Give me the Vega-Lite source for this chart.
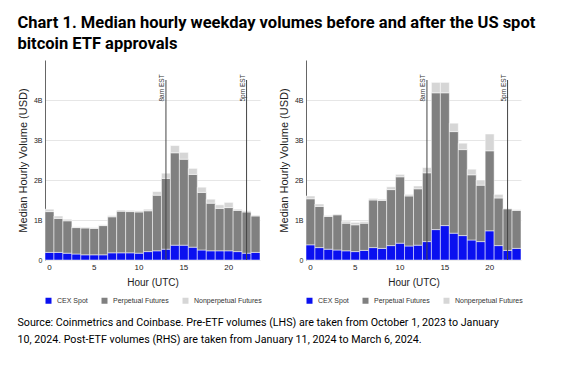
{
  "$schema": "https://vega.github.io/schema/vega-lite/v6.json",
  "background": "white",
  "padding": {"left": 17, "top": 14, "right": 10, "bottom": 6},
  "title": {
    "text": ["Chart 1. Median hourly weekday volumes before and after the US spot", "bitcoin ETF approvals"],
    "anchor": "start", "font": "Roboto", "fontSize": 16.5, "fontWeight": "bold", "lineHeight": 21, "offset": 8, "color": "black"
  },
  "datasets": {
    "pre": [
      {"h": 0, "CEX Spot": 0.19, "Perpetual Futures": 1.02, "Nonperpetual Futures": 0.06},
      {"h": 1, "CEX Spot": 0.19, "Perpetual Futures": 0.85, "Nonperpetual Futures": 0.06},
      {"h": 2, "CEX Spot": 0.17, "Perpetual Futures": 0.81, "Nonperpetual Futures": 0.04},
      {"h": 3, "CEX Spot": 0.15, "Perpetual Futures": 0.66, "Nonperpetual Futures": 0.02},
      {"h": 4, "CEX Spot": 0.13, "Perpetual Futures": 0.67, "Nonperpetual Futures": 0.02},
      {"h": 5, "CEX Spot": 0.13, "Perpetual Futures": 0.66, "Nonperpetual Futures": 0.02},
      {"h": 6, "CEX Spot": 0.13, "Perpetual Futures": 0.73, "Nonperpetual Futures": 0.02},
      {"h": 7, "CEX Spot": 0.18, "Perpetual Futures": 0.90, "Nonperpetual Futures": 0.03},
      {"h": 8, "CEX Spot": 0.18, "Perpetual Futures": 1.04, "Nonperpetual Futures": 0.03},
      {"h": 9, "CEX Spot": 0.18, "Perpetual Futures": 1.03, "Nonperpetual Futures": 0.03},
      {"h": 10, "CEX Spot": 0.17, "Perpetual Futures": 1.03, "Nonperpetual Futures": 0.03},
      {"h": 11, "CEX Spot": 0.21, "Perpetual Futures": 1.02, "Nonperpetual Futures": 0.04},
      {"h": 12, "CEX Spot": 0.23, "Perpetual Futures": 1.39, "Nonperpetual Futures": 0.09},
      {"h": 13, "CEX Spot": 0.27, "Perpetual Futures": 1.77, "Nonperpetual Futures": 0.13},
      {"h": 14, "CEX Spot": 0.37, "Perpetual Futures": 2.31, "Nonperpetual Futures": 0.18},
      {"h": 15, "CEX Spot": 0.37, "Perpetual Futures": 2.15, "Nonperpetual Futures": 0.17},
      {"h": 16, "CEX Spot": 0.32, "Perpetual Futures": 1.82, "Nonperpetual Futures": 0.15},
      {"h": 17, "CEX Spot": 0.25, "Perpetual Futures": 1.44, "Nonperpetual Futures": 0.13},
      {"h": 18, "CEX Spot": 0.23, "Perpetual Futures": 1.19, "Nonperpetual Futures": 0.10},
      {"h": 19, "CEX Spot": 0.23, "Perpetual Futures": 1.06, "Nonperpetual Futures": 0.09},
      {"h": 20, "CEX Spot": 0.23, "Perpetual Futures": 1.08, "Nonperpetual Futures": 0.13},
      {"h": 21, "CEX Spot": 0.21, "Perpetual Futures": 1.03, "Nonperpetual Futures": 0.03},
      {"h": 22, "CEX Spot": 0.17, "Perpetual Futures": 1.03, "Nonperpetual Futures": 0.03},
      {"h": 23, "CEX Spot": 0.19, "Perpetual Futures": 0.91, "Nonperpetual Futures": 0.02}
    ],
    "post": [
      {"h": 0, "CEX Spot": 0.38, "Perpetual Futures": 1.15, "Nonperpetual Futures": 0.07},
      {"h": 1, "CEX Spot": 0.31, "Perpetual Futures": 1.03, "Nonperpetual Futures": 0.06},
      {"h": 2, "CEX Spot": 0.27, "Perpetual Futures": 0.82, "Nonperpetual Futures": 0.02},
      {"h": 3, "CEX Spot": 0.25, "Perpetual Futures": 0.88, "Nonperpetual Futures": 0.02},
      {"h": 4, "CEX Spot": 0.23, "Perpetual Futures": 0.69, "Nonperpetual Futures": 0.05},
      {"h": 5, "CEX Spot": 0.21, "Perpetual Futures": 0.67, "Nonperpetual Futures": 0.06},
      {"h": 6, "CEX Spot": 0.24, "Perpetual Futures": 0.68, "Nonperpetual Futures": 0.04},
      {"h": 7, "CEX Spot": 0.31, "Perpetual Futures": 1.19, "Nonperpetual Futures": 0.04},
      {"h": 8, "CEX Spot": 0.29, "Perpetual Futures": 1.20, "Nonperpetual Futures": 0.03},
      {"h": 9, "CEX Spot": 0.36, "Perpetual Futures": 1.40, "Nonperpetual Futures": 0.07},
      {"h": 10, "CEX Spot": 0.42, "Perpetual Futures": 1.66, "Nonperpetual Futures": 0.06},
      {"h": 11, "CEX Spot": 0.35, "Perpetual Futures": 1.25, "Nonperpetual Futures": 0.04},
      {"h": 12, "CEX Spot": 0.37, "Perpetual Futures": 1.41, "Nonperpetual Futures": 0.07},
      {"h": 13, "CEX Spot": 0.46, "Perpetual Futures": 1.72, "Nonperpetual Futures": 0.13},
      {"h": 14, "CEX Spot": 0.76, "Perpetual Futures": 3.42, "Nonperpetual Futures": 0.26},
      {"h": 15, "CEX Spot": 0.86, "Perpetual Futures": 3.32, "Nonperpetual Futures": 0.26},
      {"h": 16, "CEX Spot": 0.67, "Perpetual Futures": 2.54, "Nonperpetual Futures": 0.21},
      {"h": 17, "CEX Spot": 0.61, "Perpetual Futures": 2.15, "Nonperpetual Futures": 0.16},
      {"h": 18, "CEX Spot": 0.50, "Perpetual Futures": 1.63, "Nonperpetual Futures": 0.14},
      {"h": 19, "CEX Spot": 0.46, "Perpetual Futures": 1.41, "Nonperpetual Futures": 0.13},
      {"h": 20, "CEX Spot": 0.73, "Perpetual Futures": 2.00, "Nonperpetual Futures": 0.42},
      {"h": 21, "CEX Spot": 0.36, "Perpetual Futures": 1.19, "Nonperpetual Futures": 0.09},
      {"h": 22, "CEX Spot": 0.24, "Perpetual Futures": 1.04, "Nonperpetual Futures": 0.01},
      {"h": 23, "CEX Spot": 0.29, "Perpetual Futures": 0.95, "Nonperpetual Futures": 0.02}
    ],
    "marks": [
      {"h": 13, "label": "8am EST"},
      {"h": 22, "label": "5pm EST"}
    ]
  },
  "vconcat": [
    {
      "title": {
        "text": ["Source: Coinmetrics and Coinbase. Pre-ETF volumes (LHS) are taken from October 1, 2023 to January", "10, 2024. Post-ETF volumes (RHS) are taken from January 11, 2024 to March 6, 2024."],
        "orient": "bottom", "anchor": "start", "font": "Roboto", "fontSize": 10.7, "fontWeight": "normal", "lineHeight": 17, "offset": 14, "color": "black"
      },
      "spacing": 16,
      "resolve": {"legend": {"color": "independent"}},
      "hconcat": [
        {
          "width": 215, "height": 200,
          "layer": [
            {
              "data": {"name": "pre"},
              "transform": [
                {"fold": ["CEX Spot", "Perpetual Futures", "Nonperpetual Futures"], "as": ["type", "v"]},
                {"calculate": "indexof(['CEX Spot','Perpetual Futures','Nonperpetual Futures'], datum.type)", "as": "ord"}
              ],
              "mark": {"type": "bar", "stroke": "white", "strokeWidth": 0.5},
              "encoding": {
                "x": {"field": "h", "type": "ordinal", "title": "Hour (UTC)", "scale": {"paddingInner": 0, "paddingOuter": 0}},
                "y": {"field": "v", "type": "quantitative", "stack": "zero", "title": "Median Hourly Volume (USD)", "scale": {"domain": [0, 5], "nice": false}, "axis": {"values": [0, 1, 2, 3, 4]}},
                "color": {"field": "type", "type": "nominal", "sort": ["CEX Spot", "Perpetual Futures", "Nonperpetual Futures"], "scale": {"domain": ["CEX Spot", "Perpetual Futures", "Nonperpetual Futures"], "range": ["#0a10f0", "#808080", "#d6d6d6"]}},
                "order": {"field": "ord", "type": "quantitative"}
              }
            },
            {
              "data": {"name": "marks"},
              "mark": {"type": "rule", "color": "#444", "strokeWidth": 1},
              "encoding": {"x": {"field": "h", "type": "ordinal"}, "y": {"datum": 0}, "y2": {"datum": 4.5}}
            },
            {
              "data": {"name": "marks"},
              "mark": {"type": "text", "angle": 270, "align": "right", "baseline": "bottom", "dy": -1, "fontSize": 6.5, "color": "#333", "font": "Liberation Sans"},
              "encoding": {"x": {"field": "h", "type": "ordinal"}, "y": {"datum": 4.64}, "text": {"field": "label"}}
            }
          ]
        },
        {
          "width": 215, "height": 200,
          "layer": [
            {
              "data": {"name": "post"},
              "transform": [
                {"fold": ["CEX Spot", "Perpetual Futures", "Nonperpetual Futures"], "as": ["type", "v"]},
                {"calculate": "indexof(['CEX Spot','Perpetual Futures','Nonperpetual Futures'], datum.type)", "as": "ord"}
              ],
              "mark": {"type": "bar", "stroke": "white", "strokeWidth": 0.5},
              "encoding": {
                "x": {"field": "h", "type": "ordinal", "title": "Hour (UTC)", "scale": {"paddingInner": 0, "paddingOuter": 0}},
                "y": {"field": "v", "type": "quantitative", "stack": "zero", "title": "Median Hourly Volume (USD)", "scale": {"domain": [0, 5], "nice": false}, "axis": {"values": [0, 1, 2, 3, 4]}},
                "color": {"field": "type", "type": "nominal", "sort": ["CEX Spot", "Perpetual Futures", "Nonperpetual Futures"], "scale": {"domain": ["CEX Spot", "Perpetual Futures", "Nonperpetual Futures"], "range": ["#0a10f0", "#808080", "#d6d6d6"]}},
                "order": {"field": "ord", "type": "quantitative"}
              }
            },
            {
              "data": {"name": "marks"},
              "mark": {"type": "rule", "color": "#444", "strokeWidth": 1},
              "encoding": {"x": {"field": "h", "type": "ordinal"}, "y": {"datum": 0}, "y2": {"datum": 4.5}}
            },
            {
              "data": {"name": "marks"},
              "mark": {"type": "text", "angle": 270, "align": "right", "baseline": "bottom", "dy": -1, "fontSize": 6.5, "color": "#333", "font": "Liberation Sans"},
              "encoding": {"x": {"field": "h", "type": "ordinal"}, "y": {"datum": 4.64}, "text": {"field": "label"}}
            }
          ]
        }
      ]
    }
  ],
  "config": {
    "view": {"stroke": null},
    "font": "Liberation Sans",
    "axisX": {
      "labelExpr": "datum.value % 5 == 0 ? datum.label : ''",
      "labelAngle": 0, "ticks": false, "domain": false, "grid": false,
      "labelFontSize": 8, "labelColor": "#222", "labelPadding": 3,
      "titleFontSize": 10, "titleFontWeight": "normal", "titleColor": "#222", "titlePadding": 6
    },
    "axisY": {
      "labelExpr": "datum.value == 0 ? '0' : datum.value + 'B'",
      "ticks": false, "domainColor": "#666", "grid": true, "gridColor": "#e6e6e6",
      "labelFontSize": 7, "labelColor": "#222", "labelPadding": 3,
      "titleFontSize": 11, "titleFontWeight": "normal", "titleColor": "#222", "titlePadding": 5
    },
    "legend": {
      "title": null, "orient": "none", "legendX": 0, "legendY": 237, "direction": "horizontal",
      "symbolType": "square", "symbolSize": 36, "symbolStrokeWidth": 0, "symbolOpacity": 1,
      "labelFontSize": 7, "labelOffset": 5, "columnPadding": 13, "labelColor": "#333"
    }
  }
}
